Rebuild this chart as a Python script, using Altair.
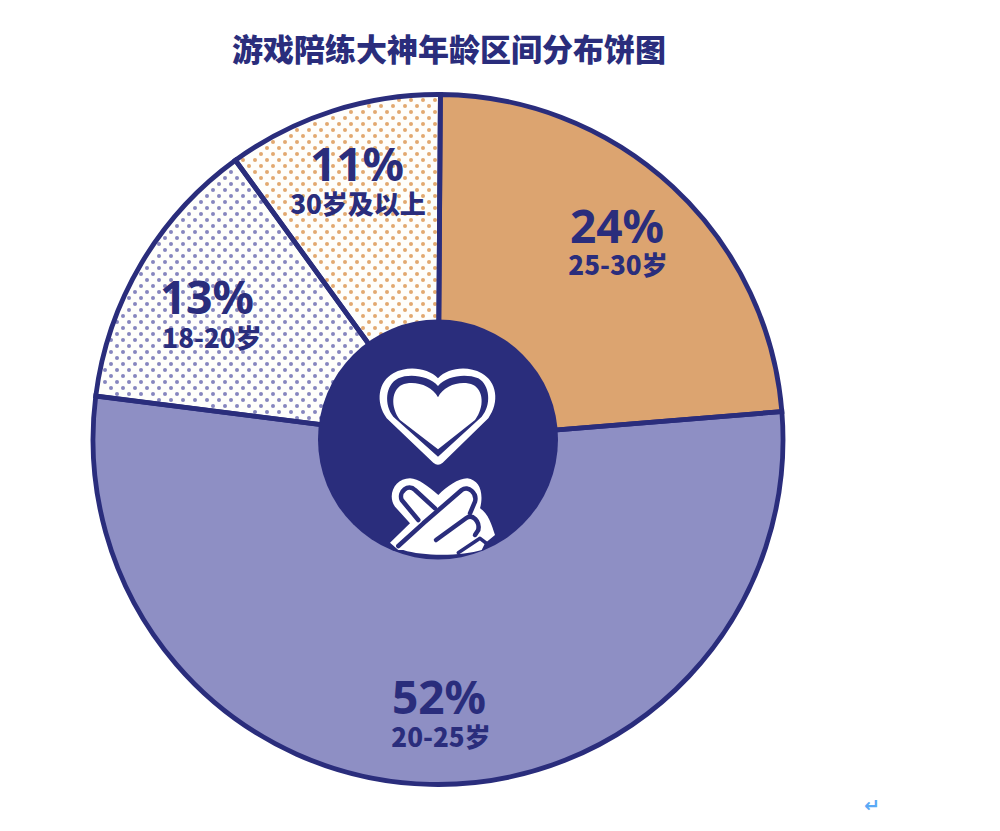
import re
import numpy as np
import pandas as pd
import altair as alt

title_text = "游戏陪练大神年龄区间分布饼图"
categories = ["25-30岁", "20-25岁", "18-20岁", "30岁及以上"]
percent_labels = ["24%", "52%", "13%", "11%"]
# slice extents as drawn in the picture (percent of the full turn)
drawn_shares = [23.6, 53.3, 13.0, 10.1]

NAVY = "#2a2d7c"
ORANGE = "#dca470"
PURPLE = "#8e8fc4"
PAPER = "#fefefb"
DOT_ORANGE = "#e0a468"
DOT_PURPLE = "#7f80bb"
slice_fill = [ORANGE, PURPLE, PAPER, PAPER]

W, H = 984, 815
CX, CY, R = 430, 431.5, 345
START = 0.4  # degrees: the first slice starts just right of 12 o'clock

X = alt.X("x:Q", axis=None, scale=alt.Scale(domain=[0, W], range=[0, W], nice=False, zero=False))
Y = alt.Y("y:Q", axis=None, scale=alt.Scale(domain=[H, 0], range=[H, 0], nice=False, zero=False))

pie_df = pd.DataFrame({"cat": categories, "share": drawn_shares, "idx": range(4), "fill": slice_fill})
s = np.radians(START)
theta = alt.Theta("share:Q", stack=True, scale=alt.Scale(domain=[0, 100], range=[s, 2 * np.pi + s]))
centre = dict(x=alt.value(CX), y=alt.value(CY), order=alt.Order("idx:Q"))

fills = alt.Chart(pie_df).mark_arc(outerRadius=R).encode(
    theta=theta, color=alt.Color("fill:N", scale=None), **centre)
outlines = alt.Chart(pie_df).mark_arc(outerRadius=R, fillOpacity=0, stroke=NAVY, strokeWidth=4.8).encode(
    theta=theta, **centre)

# halftone texture of the two dotted slices
cum = np.cumsum(drawn_shares) * 3.6 + START
gx, gy = [], []
rows = np.arange(0, H, 6)
for i, yy in enumerate(rows):
    for xx in np.arange((i % 2) * 6 + 1, W, 12):
        gx.append(xx)
        gy.append(yy + 2)
gx, gy = np.array(gx, float), np.array(gy, float)
ang = np.degrees(np.arctan2(gx - CX, CY - gy)) % 360
rad = np.hypot(gx - CX, gy - CY)
inside = rad < R - 3
edge = lambda a: np.abs(rad * np.sin(np.radians(ang - a))) > 3.5
purple_mask = inside & (ang > cum[1]) & (ang < cum[2]) & edge(cum[1]) & edge(cum[2])
orange_mask = inside & (ang > cum[2]) & edge(cum[2]) & edge(START)
dots = pd.concat([
    pd.DataFrame({"x": gx[purple_mask], "y": gy[purple_mask], "c": DOT_PURPLE}),
    pd.DataFrame({"x": gx[orange_mask], "y": gy[orange_mask], "c": DOT_ORANGE}),
])
dot_layer = alt.Chart(dots).mark_circle(size=16, opacity=0.95).encode(
    x=X, y=Y, color=alt.Color("c:N", scale=None))

one = pd.DataFrame({"k": [0]})
hub = alt.Chart(one).mark_point(shape="circle", filled=True, size=(2 * 120) ** 2,
                                color=NAVY, opacity=1).encode(x=alt.value(CX), y=alt.value(CY))


def heart_rel(path):
    # icon path in 3x crop coordinates, origin (310,310) of the page
    def f(m):
        return f"{int(m.group(1)) / 3 - 128:.1f},{int(m.group(2)) / 3 - 129.5:.1f}"
    return re.sub(r"(-?\d+),(-?\d+)", f, path)


def hand_rel(path):
    # icon path in 3x crop coordinates, origin (380,470) of the page
    def f(m):
        return f"{int(m.group(1)) / 3 - 58:.1f},{int(m.group(2)) / 3 + 30.5:.1f}"
    return re.sub(r"(-?\d+),(-?\d+)", f, path)


HEART_OUTER = heart_rel("M384,205 C355,175 295,165 250,190 C205,215 195,275 230,325 L370,458 Q384,470 398,458 "
                        "L535,325 C570,275 560,215 515,190 C470,165 412,175 384,205 Z")
HEART_GAP = heart_rel("M384,228 C358,198 300,190 265,205 C225,225 222,285 250,320 L384,440 L515,320 "
                      "C545,285 540,225 505,205 C465,190 410,198 384,228 Z")
HEART_INNER = heart_rel("M384,262 C365,225 310,210 275,225 C245,240 240,290 270,330 L384,418 L495,330 "
                        "C525,290 520,240 490,225 C455,210 402,225 384,262 Z")
HAND_BODY = hand_rel("M30,218 L90,160 L45,110 C20,75 45,25 90,25 C115,25 145,50 175,75 "
                     "C200,50 235,25 262,25 C300,30 312,70 300,115 C325,130 335,165 345,195 "
                     "L315,220 L305,240 C250,258 130,260 70,240 L55,240 Z")
FINGER_A = hand_rel("M115,150 L65,90 C55,65 85,40 105,60 L165,115")
FINGER_B = hand_rel("M55,228 L130,160 L245,60 C265,45 292,70 285,95 L270,130")
FINGER_C = hand_rel("M168,210 L258,145 C278,130 300,155 295,180 L285,195")
FINGER_D = hand_rel("M235,248 L300,205 L322,222")


def icon(path, stroke_w=0.0, fill=False, colour=NAVY):
    kw = dict(shape=path, size=4, opacity=1)
    if fill:
        kw.update(filled=True, color=colour, strokeWidth=0)
    else:
        kw.update(filled=False, stroke=colour, strokeWidth=stroke_w, strokeCap="round", strokeJoin="round", fillOpacity=0)
    return alt.Chart(one).mark_point(**kw).encode(x=alt.value(CX), y=alt.value(CY))


CJK = "Noto Sans CJK SC"
layers = [fills, dot_layer, outlines, hub,
          icon(HEART_OUTER, fill=True, colour="#ffffff"),
          icon(HEART_GAP, fill=True, colour=NAVY),
          icon(HEART_INNER, fill=True, colour="#ffffff"),
          icon(HAND_BODY, fill=True, colour="#ffffff"),
          icon(FINGER_A, 4.5), icon(FINGER_B, 4.5), icon(FINGER_C, 4.5), icon(FINGER_D, 3.5)]


def text(s, px, py, size, colour=NAVY, weight=800, font=CJK):
    return alt.Chart(pd.DataFrame({"t": [s]})).mark_text(
        font=font, fontSize=size, fontWeight=weight, color=colour, align="center", baseline="middle").encode(
        text="t:N", x=alt.value(px - 8), y=alt.value(py - 8))


layers.append(text(title_text, 449, 52, 31, weight=900))
label_pos = [((617, 229), (618, 267)), ((439, 700), (441, 739)), ((207, 300), (212, 340)), ((357, 167), (358, 206))]
for pct, cat, (p1, p2) in zip(percent_labels, categories, label_pos):
    layers.append(text(pct, p1[0], p1[1], 46, font="Noto Sans", weight=700))
    layers.append(text(cat, p2[0], p2[1], 26, weight=800))
layers.append(text("↵", 872, 806, 19, colour="#5aa9f5", weight=700, font="DejaVu Sans"))

chart = alt.layer(*layers).resolve_scale(color="independent", theta="independent").properties(
    width=W, height=H, padding=0, autosize=alt.AutoSizeParams(type="none"), background="#ffffff"
).configure_view(stroke=None)

chart.save("out.html", embed_options={"renderer": "svg", "actions": False})
